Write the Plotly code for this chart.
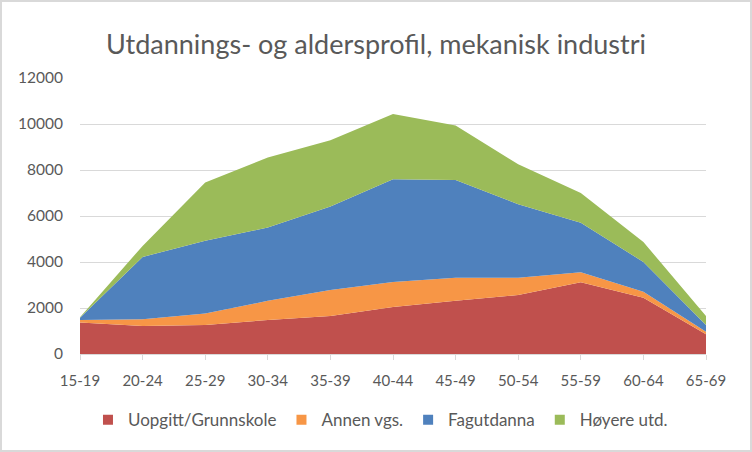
import plotly.graph_objects as go

categories = ["15-19", "20-24", "25-29", "30-34", "35-39", "40-44",
              "45-49", "50-54", "55-59", "60-64", "65-69"]
uopgitt = [1370, 1220, 1260, 1480, 1650, 2040, 2320, 2560, 3120, 2450, 860]
annen = [110, 290, 500, 830, 1130, 1090, 1000, 760, 430, 260, 110]
fagutdanna = [100, 2710, 3160, 3190, 3630, 4470, 4240, 3190, 2160, 1290, 290]
hoyere = [20, 480, 2540, 3040, 2880, 2830, 2380, 1740, 1290, 870, 390]
y_ticks = [0, 2000, 4000, 6000, 8000, 10000, 12000]

series = [
    ("Uopgitt/Grunnskole", uopgitt, "#C0504D"),
    ("Annen vgs.", annen, "#F79646"),
    ("Fagutdanna", fagutdanna, "#4F81BD"),
    ("Høyere utd.", hoyere, "#9BBB59"),
]

fig = go.Figure()
for name, vals, col in series:
    fig.add_trace(go.Scatter(
        x=categories, y=vals, name=name, mode="lines",
        stackgroup="one", line=dict(width=0, color=col),
        fillcolor=col, showlegend=False, legendgroup=name,
    ))
# legend entries with square swatches
for name, vals, col in series:
    fig.add_trace(go.Scatter(
        x=[None], y=[None], name=name, mode="markers",
        marker=dict(symbol="square", size=10, color=col),
        legendgroup=name, showlegend=True,
    ))

font_family = "Lato, 'Open Sans', sans-serif"
fig.update_layout(
    width=752, height=452,
    margin=dict(l=80, r=46, t=78, b=98),
    paper_bgcolor="white", plot_bgcolor="white",
    title=dict(text="Utdannings- og aldersprofil, mekanisk industri",
               x=0.5, xanchor="center", y=1 - 45 / 452, yanchor="middle",
               font=dict(family=font_family, size=27, color="#595959")),
    font=dict(family=font_family, size=15, color="#595959"),
    showlegend=True,
    legend=dict(orientation="h", x=0.48, xanchor="center",
                y=-0.24, yanchor="middle",
                font=dict(family=font_family, size=17, color="#595959"),
                traceorder="normal", itemwidth=30),
    xaxis=dict(type="category", range=[0, len(categories) - 1],
               showgrid=False, showline=True, linecolor="#D9D9D9",
               ticks="outside", ticklen=5, tickcolor="#D9D9D9",
               ticklabelstandoff=8,
               tickfont=dict(size=15, color="#595959")),
    yaxis=dict(range=[0, 12000], tickvals=y_ticks,
               ticktext=[str(v) for v in y_ticks], showgrid=True,
               gridcolor="#D9D9D9", zeroline=False, showline=False,
               ticklabelstandoff=16,
               tickfont=dict(size=15.5, color="#595959")),
    shapes=[dict(type="rect", xref="paper", yref="paper",
                 x0=-79 / 626, x1=1 + 45 / 626,
                 y0=-97 / 276, y1=1 + 77 / 276,
                 line=dict(color="#D9D9D9", width=2))],
)

fig.write_html("out.html",
               config={"displayModeBar": False, "staticPlot": True},
               post_script="document.body.style.margin='0';")
